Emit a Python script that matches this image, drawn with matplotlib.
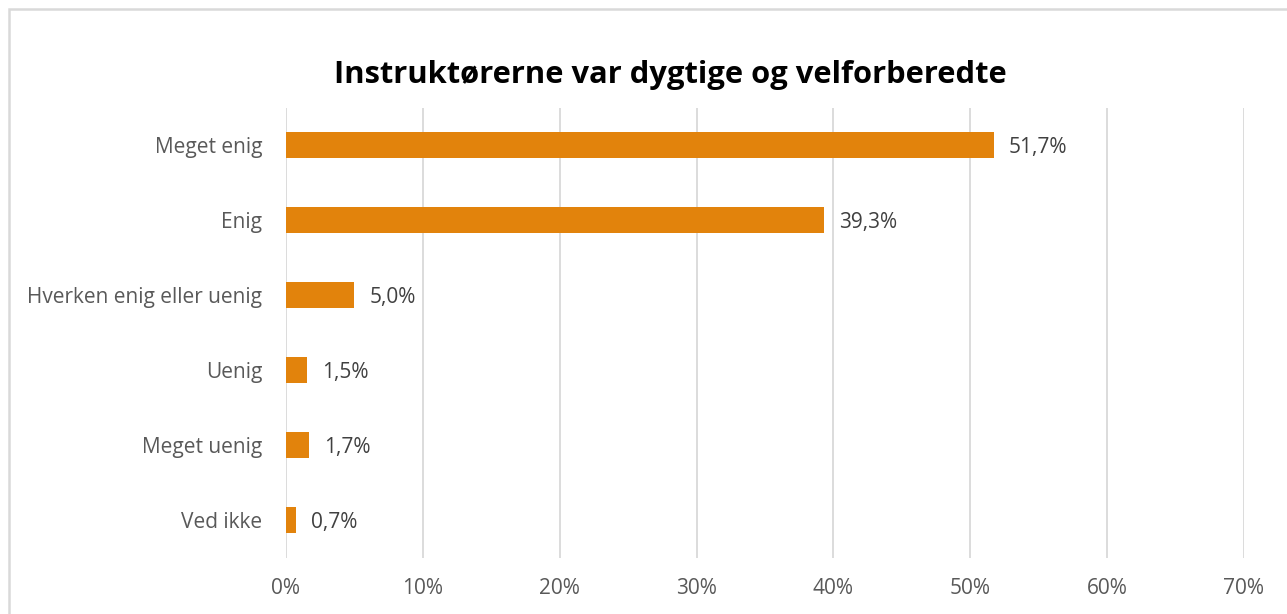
import matplotlib.pyplot as plt
from matplotlib.patches import Rectangle

# Data
categories = ['Meget enig', 'Enig', 'Hverken enig eller uenig', 'Uenig', 'Meget uenig', 'Ved ikke']
values = [51.7, 39.3, 5.0, 1.5, 1.7, 0.7]
value_labels = ['51,7%', '39,3%', '5,0%', '1,5%', '1,7%', '0,7%']
xticks = [0, 10, 20, 30, 40, 50, 60, 70]
xtick_labels = ['0%', '10%', '20%', '30%', '40%', '50%', '60%', '70%']
title = 'Instruktørerne var dygtige og velforberedte'

plt.rcParams['font.family'] = ['Open Sans', 'DejaVu Sans']

W, H = 1287, 614
fig = plt.figure(figsize=(W / 100, H / 100), dpi=100)
ax = fig.add_axes([286 / W, 1 - 557.5 / H, (1244 - 286) / W, 450 / H])

# Outer chart border (right and bottom edges cut off in the original)
fig.patches.append(Rectangle((9 / W, -0.1), 1.2, 1 - 9 / H + 0.1, transform=fig.transFigure,
                             fill=False, edgecolor='#D9D9D9', linewidth=1.8, clip_on=False))

ypos = list(range(len(categories)))
ax.barh(ypos, values, height=0.35, color='#E2830C', zorder=3)
for y, v, lab in zip(ypos, values, value_labels):
    ax.annotate(lab, (v, y), xytext=(11, -1.5), textcoords='offset points',
                va='center', ha='left', fontsize=15, color='#404040')

ax.set_xlim(0, 70)
ax.set_ylim(len(categories) - 0.5, -0.5)
ax.set_xticks(xticks)
ax.set_xticklabels(xtick_labels)
ax.set_yticks(ypos)
ax.set_yticklabels(categories)
ax.tick_params(axis='both', length=0, labelsize=15, labelcolor='#595959')
ax.tick_params(axis='x', pad=15)
ax.tick_params(axis='y', pad=17)
ax.grid(axis='x', color='#D9D9D9', linewidth=1.3, zorder=0)
for s in ax.spines.values():
    s.set_visible(False)

fig.text(670 / W, 1 - 75 / H, title, ha='center', va='center',
         fontsize=22.2, fontweight='bold', color='#000000')

fig.savefig('out.png', dpi=100)
